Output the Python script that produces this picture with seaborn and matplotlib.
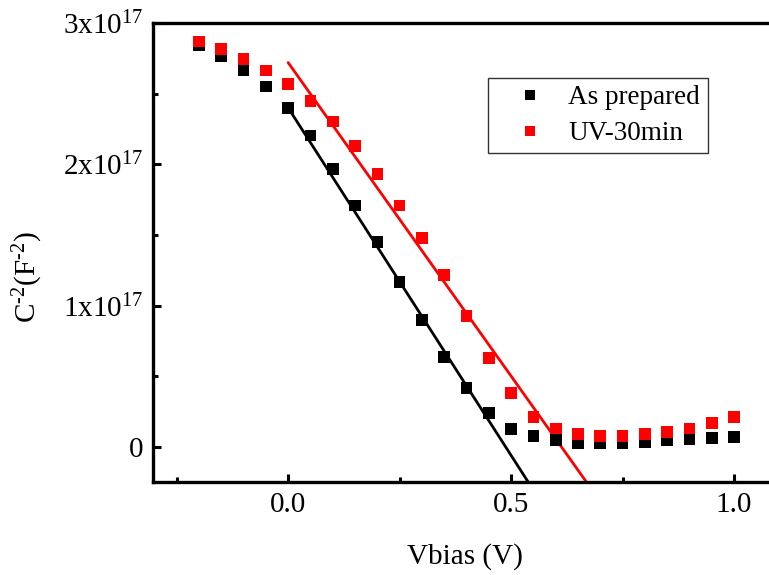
import numpy as np
import pandas as pd
import matplotlib
matplotlib.use("Agg")
import matplotlib.pyplot as plt
import seaborn as sns

# ---- data (C^-2 in units of 1e17 F^-2) ----
vbias = [-0.20, -0.15, -0.10, -0.05, 0.00, 0.05, 0.10, 0.15, 0.20, 0.25,
         0.30, 0.35, 0.40, 0.45, 0.50, 0.55, 0.60, 0.65, 0.70, 0.75,
         0.80, 0.85, 0.90, 0.95, 1.00]
as_prepared = [2.845, 2.762, 2.668, 2.550, 2.397, 2.203, 1.967, 1.708, 1.451, 1.168,
               0.899, 0.637, 0.418, 0.241, 0.127, 0.078, 0.050, 0.030, 0.030, 0.030,
               0.035, 0.045, 0.055, 0.065, 0.070]
uv_30min = [2.868, 2.814, 2.746, 2.663, 2.567, 2.449, 2.302, 2.130, 1.930, 1.708,
            1.479, 1.217, 0.927, 0.630, 0.380, 0.214, 0.130, 0.092, 0.078, 0.078,
            0.090, 0.106, 0.130, 0.170, 0.210]
series_names = ["As prepared", "UV-30min"]
series_colors = ["#000000", "#ff0000"]

# linear fit lines (endpoints)
fit_black_x = [0.0, 0.56]
fit_black_y = [2.40, -0.355]
fit_red_x = [0.0, 0.70]
fit_red_y = [2.72, -0.386]

yticks = [0, 1, 2, 3]
ytick_labels = ["0", "1x10$^{17}$", "2x10$^{17}$", "3x10$^{17}$"]
xticks = [0.0, 0.5, 1.0]
xtick_labels = ["0.0", "0.5", "1.0"]

sns.set_style("ticks")
plt.rcParams["font.family"] = ["Liberation Serif", "DejaVu Serif"]
plt.rcParams["mathtext.fontset"] = "custom"
plt.rcParams["mathtext.rm"] = "Liberation Serif"
plt.rcParams["mathtext.it"] = "Liberation Serif:italic"
for k in ["text.color", "axes.labelcolor", "xtick.color", "ytick.color", "axes.edgecolor"]:
    plt.rcParams[k] = "black"

df = pd.DataFrame({
    "Vbias": vbias * 2,
    "C": as_prepared + uv_30min,
    "series": [series_names[0]] * len(vbias) + [series_names[1]] * len(vbias),
})

fig = plt.figure(figsize=(7.69, 5.75), dpi=100)
ax = fig.add_axes([153 / 769, 93 / 575, (772 - 153) / 769, (482 - 23) / 575])

sns.lineplot(x=fit_black_x, y=fit_black_y, color="black", lw=2.0, ax=ax)
sns.lineplot(x=fit_red_x, y=fit_red_y, color="#ff0000", lw=2.0, ax=ax)
sns.scatterplot(data=df, x="Vbias", y="C", hue="series", hue_order=series_names,
                palette=series_colors, marker="s", s=70, edgecolor="none",
                linewidth=0, ax=ax, zorder=3)

ax.set_xlim(-0.303, 1.085)
ax.set_ylim(-0.248, 3.0)
ax.set_xticks(xticks)
ax.set_xticklabels(xtick_labels)
ax.set_xticks([-0.25, 0.25, 0.75], minor=True)
ax.set_yticks(yticks)
ax.set_yticklabels(ytick_labels)
ax.set_yticks([0.5, 1.5, 2.5], minor=True)
ax.tick_params(which="major", direction="in", length=6, width=2.2, labelsize=21, pad=7)
ax.tick_params(which="minor", direction="in", length=3.5, width=2.2)
for side in ["left", "bottom", "top", "right"]:
    ax.spines[side].set_linewidth(2.4)

ax.set_xlabel("Vbias (V)", fontsize=21, va="center")
ax.xaxis.set_label_coords((465 - 153) / 619, (482 - 557) / 459)
ax.set_ylabel(r"C$^{\text{-}2}$(F$^{\text{-}2}$)", fontsize=21, va="center")
ax.yaxis.set_label_coords((28 - 153) / 619, (482 - 277) / 459)

leg = ax.legend(loc="upper left", bbox_to_anchor=((488 - 153) / 619, 1 - (78 - 23) / 459),
                fontsize=19.5, frameon=True, fancybox=False, edgecolor="black",
                handletextpad=0.15, handlelength=2.55, borderpad=0.27,
                borderaxespad=0, markerscale=0.9, labelspacing=0.4)
leg.get_frame().set_linewidth(1.0)

fig.savefig("out.png", dpi=100)
